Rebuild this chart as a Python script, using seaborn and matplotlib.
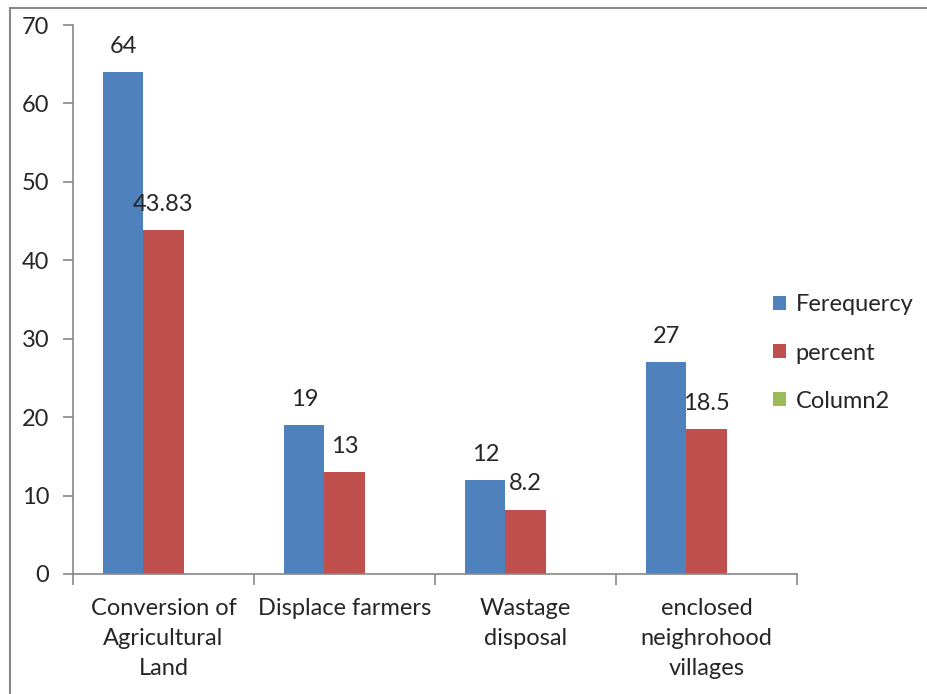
import numpy as np
import pandas as pd
import matplotlib.pyplot as plt
import seaborn as sns
from matplotlib.patches import Rectangle

# chart values
categories = ['Conversion of\nAgricultural\nLand', 'Displace farmers',
              'Wastage\ndisposal', 'enclosed\nneighrohood\nvillages']
frequency = [64, 19, 12, 27]
percent   = [43.83, 13, 8.2, 18.5]
column2   = [0, 0, 0, 0]
series    = ['Ferequercy', 'percent', 'Column2']
colors    = ['#4F81BD', '#C0504D', '#9BBB59']

df = pd.DataFrame({
    'Category': categories * 3,
    'Series'  : [series[0]] * 4 + [series[1]] * 4 + [series[2]] * 4,
    'Value'   : frequency + percent + column2,
})

sns.set_style('white')
plt.rcParams['font.family'] = ['Lato', 'DejaVu Sans']
FS = 17

fig = plt.figure(figsize=(9.28, 6.94), dpi=100)
ax = fig.add_axes([73/928, 1-574/694, (797-73)/928, (574-25)/694])

sns.barplot(data=df, x='Category', y='Value', hue='Series',
            hue_order=series, palette=colors, width=0.663,
            linewidth=0, saturation=1, legend=False, ax=ax)

for cont in ax.containers[:2]:
    ax.bar_label(cont, labels=[f'{v:g}' for v in cont.datavalues],
                 padding=11, fontsize=FS)

ax.set_ylim(0, 70)
ax.set_xlim(-0.5, 3.5)
ax.set_yticks(range(0, 71, 10))
ax.set_xlabel('')
ax.set_ylabel('')
ax.tick_params(axis='y', labelsize=FS, length=7, width=1.2,
               color='#888888', left=True, pad=10)
ax.tick_params(axis='x', which='major', labelsize=FS, length=0, pad=17)
for lbl in ax.get_xticklabels():
    lbl.set_linespacing(1.55)
ax.set_xticks(np.arange(-0.5, 4, 1), minor=True)
ax.tick_params(axis='x', which='minor', length=8, width=1.2,
               color='#888888', bottom=True)
for s in ['top', 'right']:
    ax.spines[s].set_visible(False)
for s in ['left', 'bottom']:
    ax.spines[s].set_color('#888888')
    ax.spines[s].set_linewidth(1.2)

handles = [cont.patches[0] for cont in ax.containers]
ax.legend(handles, series,
          loc='center left', bbox_to_anchor=(773/928, 1-353/694),
          bbox_transform=fig.transFigure, frameon=False, fontsize=FS,
          handlelength=0.55, handleheight=0.55, handletextpad=0.4,
          labelspacing=1.15, borderaxespad=0, borderpad=0)

fig.patches.append(Rectangle((10/928, -0.1), 1.2, 0.1 + 1 - 8/694,
                             transform=fig.transFigure, fill=False,
                             edgecolor='#888888', linewidth=1.5))

plt.savefig('out.png', dpi=100)
